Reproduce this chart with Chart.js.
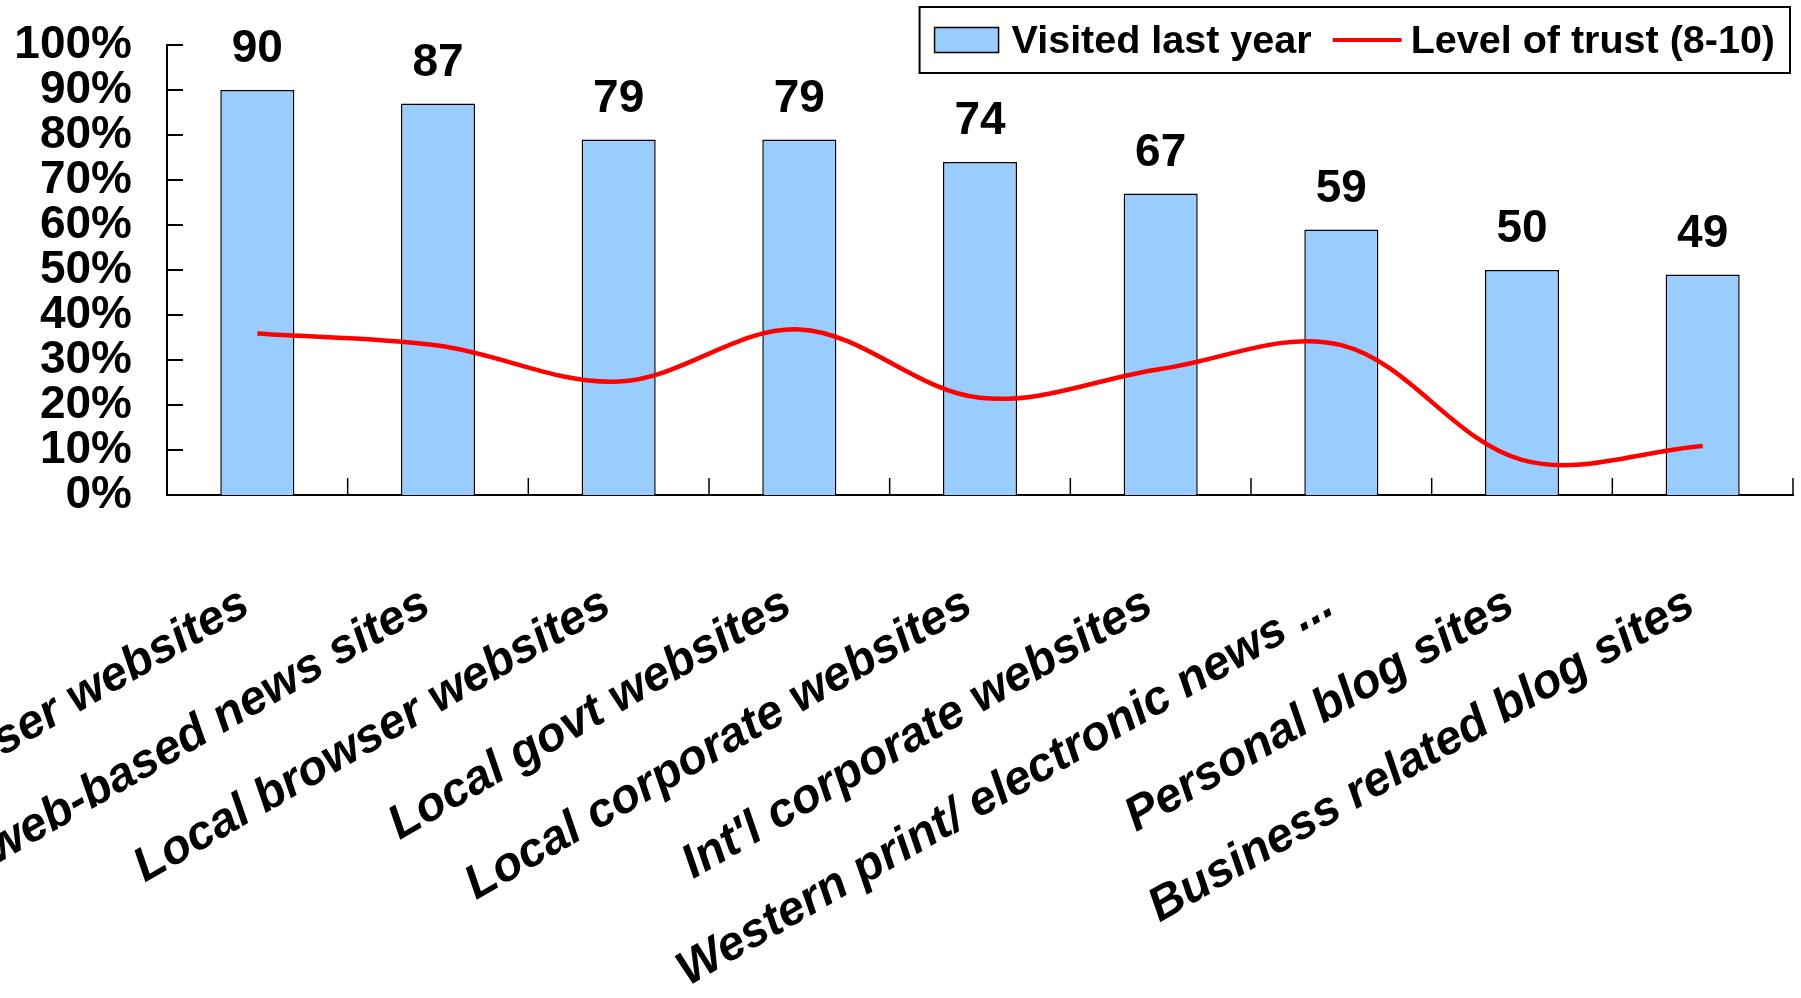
<!DOCTYPE html>
<html>
<head>
<meta charset="utf-8">
<script src="https://cdn.jsdelivr.net/npm/chart.js@4.4.1/dist/chart.umd.min.js"></script>
<style>
  html, body { margin: 0; padding: 0; background: #fff; }
  #wrap { width: 1801px; height: 998px; }
</style>
</head>
<body>
<div id="wrap"><canvas id="myChart"></canvas></div>
<script>
const categories = [
  "Int'l browser websites",
  'Local web-based news sites',
  'Local browser websites',
  'Local govt websites',
  'Local corporate websites',
  "Int'l corporate websites",
  'Western print/ electronic news ...',
  'Personal blog sites',
  'Business related blog sites'
];
const visited = [90, 87, 79, 79, 74, 67, 59, 50, 49];
const trust = [35.9, 33.2, 25.2, 36.8, 21.6, 28.0, 33.3, 7.8, 10.9];
const seriesNames = ['Visited last year', 'Level of trust (8-10)'];

const FONT = "'Liberation Sans', Arial, sans-serif";
Chart.defaults.font.family = FONT;
Chart.defaults.color = '#000';

// Excel style tick marks drawn inside the plot
const insideTicks = {
  id: 'insideTicks',
  afterDraw(chart) {
    const { ctx, chartArea: a, scales: { x, y } } = chart;
    ctx.save();
    ctx.strokeStyle = '#000';
    ctx.lineWidth = 2;
    ctx.beginPath();
    y.ticks.forEach(t => {
      const py = Math.round(y.getPixelForValue(t.value));
      ctx.moveTo(a.left, py);
      ctx.lineTo(a.left + 16, py);
    });
    ctx.stroke();
    ctx.lineWidth = 1.5;
    ctx.beginPath();
    for (let i = 1; i <= categories.length; i++) {
      const px = i < categories.length
        ? (x.getPixelForValue(i - 1) + x.getPixelForValue(i)) / 2
        : a.right;
      ctx.moveTo(px, a.bottom);
      ctx.lineTo(px, a.bottom - 17);
    }
    ctx.stroke();
    ctx.restore();
  }
};

// numbers above the bars
const barValues = {
  id: 'barValues',
  afterDatasetsDraw(chart) {
    const { ctx } = chart;
    const meta = chart.getDatasetMeta(1);
    ctx.save();
    ctx.font = 'bold 46px ' + FONT;
    ctx.fillStyle = '#000';
    ctx.textAlign = 'center';
    ctx.textBaseline = 'alphabetic';
    meta.data.forEach((bar, i) => {
      ctx.fillText(String(visited[i]), bar.x, bar.y - 28);
    });
    ctx.restore();
  }
};

// boxed legend at the top right, overlapping the plot like the original
const boxLegend = {
  id: 'boxLegend',
  afterDraw(chart) {
    const { ctx, chartArea: a } = chart;
    ctx.save();
    ctx.font = 'bold 39.5px ' + FONT;
    const w1 = ctx.measureText(seriesNames[0]).width;
    const w2 = ctx.measureText(seriesNames[1]).width;
    const total = 15 + 64 + 13 + w1 + 21 + 69 + 9 + w2 + 15;
    const right = a.right - 3;
    const left = right - total;
    const top = 7, h = 66, cy = top + h / 2;
    ctx.fillStyle = '#fff';
    ctx.fillRect(left, top, total, h);
    ctx.strokeStyle = '#000';
    ctx.lineWidth = 2;
    ctx.strokeRect(left, top, total, h);
    let x = left + 15;
    ctx.fillStyle = '#99CCFF';
    ctx.fillRect(x, cy - 12.5, 64, 25);
    ctx.lineWidth = 1.5;
    ctx.strokeRect(x, cy - 12.5, 64, 25);
    x += 64 + 13;
    ctx.fillStyle = '#000';
    ctx.textBaseline = 'middle';
    ctx.fillText(seriesNames[0], x, cy + 2);
    x += w1 + 21;
    ctx.strokeStyle = '#FF0000';
    ctx.lineWidth = 4;
    ctx.beginPath();
    ctx.moveTo(x, cy);
    ctx.lineTo(x + 69, cy);
    ctx.stroke();
    x += 69 + 9;
    ctx.fillText(seriesNames[1], x, cy + 2);
    ctx.restore();
  }
};

new Chart(document.getElementById('myChart'), {
  data: {
    labels: categories,
    datasets: [
      {
        type: 'line',
        label: seriesNames[1],
        data: trust,
        borderColor: '#FF0000',
        borderWidth: 4.5,
        pointRadius: 0,
        tension: 0.35,
        fill: false,
        order: 0
      },
      {
        type: 'bar',
        label: seriesNames[0],
        data: visited,
        backgroundColor: '#99CCFF',
        borderColor: '#000',
        borderWidth: 1.5,
        categoryPercentage: 1,
        barPercentage: 0.41,
        order: 1
      }
    ]
  },
  options: {
    responsive: true,
    maintainAspectRatio: false,
    animation: false,
    layout: { padding: { left: 17, top: 45, right: 8, bottom: 0 } },
    plugins: {
      legend: { display: false },
      tooltip: { enabled: false }
    },
    scales: {
      x: {
        grid: { display: false, drawTicks: false },
        border: { display: true, color: '#000', width: 2 },
        ticks: {
          autoSkip: false,
          maxRotation: 30,
          minRotation: 30,
          padding: 74,
          color: '#000',
          font: { size: 48, weight: 'bold', style: 'italic' },
          // trailing space nudges the right-aligned labels a little left, as in the original
          callback: (v, i) => categories[i] + ' '
        },
        afterFit(scale) {
          scale.paddingLeft = 0;
          scale.paddingRight = 0;
          scale.height = 503;
        }
      },
      y: {
        min: 0,
        max: 100,
        grid: { display: false, drawTicks: false },
        border: { display: true, color: '#000', width: 2 },
        ticks: {
          stepSize: 10,
          autoSkip: false,
          padding: 35,
          color: '#000',
          font: { size: 46, weight: 'bold' },
          callback: v => v + '%'
        },
        afterFit(scale) {
          scale.width = 150;
          scale.paddingTop = 0;
          scale.paddingBottom = 0;
        }
      }
    }
  },
  plugins: [insideTicks, barValues, boxLegend]
});
</script>
</body>
</html>
